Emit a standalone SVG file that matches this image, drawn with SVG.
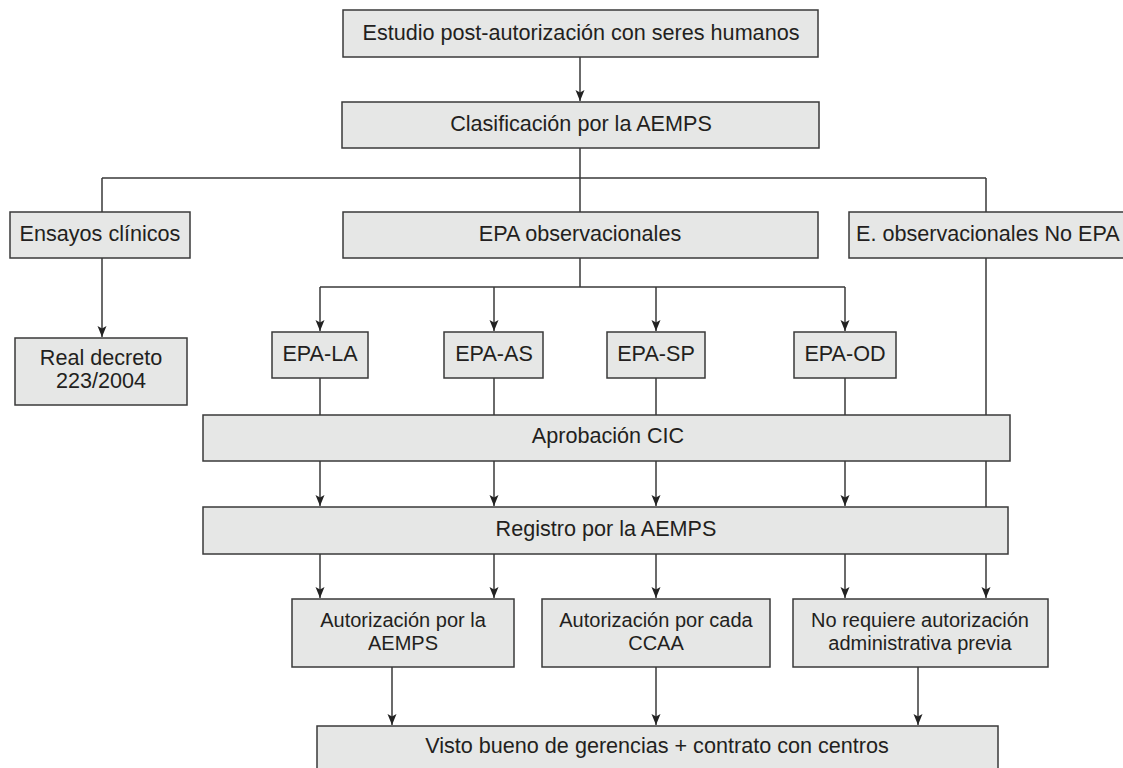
<svg xmlns="http://www.w3.org/2000/svg" width="1123" height="768" viewBox="0 0 1123 768">
<defs>
<style>
.box{fill:#e6e7e6;stroke:#3a3a3a;stroke-width:1.5}
.ln{fill:none;stroke:#3a3a3a;stroke-width:1.5}
.t{font-family:"Liberation Sans",Arial,Helvetica,sans-serif;font-size:21.6px;fill:#231f20;text-anchor:middle}
.t2{font-size:20px}
</style>
<marker id="ah" markerUnits="userSpaceOnUse" markerWidth="12" markerHeight="12" viewBox="0 0 12 10" refX="11" refY="5" orient="auto">
<path d="M0,0.5 L11,5 L0,9.5 L2.5,5 z" fill="#222"/>
</marker>
</defs>
<rect width="1123" height="768" fill="#ffffff"/>
<g id="connectors">
<path class="ln" d="M580,57 V101" marker-end="url(#ah)"/>
<path class="ln" d="M580,148 V178 M102,178 H986 M102,178 V212 M580,178 V212 M986,178 V212"/>
<path class="ln" d="M102,258 V337" marker-end="url(#ah)"/>
<path class="ln" d="M580,258 V287 M320,287 H845"/>
<path class="ln" d="M320,287 V331" marker-end="url(#ah)"/>
<path class="ln" d="M494,287 V331" marker-end="url(#ah)"/>
<path class="ln" d="M656,287 V331" marker-end="url(#ah)"/>
<path class="ln" d="M845,287 V331" marker-end="url(#ah)"/>
<path class="ln" d="M320,378 V415 M494,378 V415 M656,378 V415 M845,378 V415 M986,258 V507"/>
<path class="ln" d="M320,461 V506" marker-end="url(#ah)"/>
<path class="ln" d="M494,461 V506" marker-end="url(#ah)"/>
<path class="ln" d="M656,461 V506" marker-end="url(#ah)"/>
<path class="ln" d="M845,461 V506" marker-end="url(#ah)"/>
<path class="ln" d="M320,554 V598" marker-end="url(#ah)"/>
<path class="ln" d="M494,554 V598" marker-end="url(#ah)"/>
<path class="ln" d="M656,554 V598" marker-end="url(#ah)"/>
<path class="ln" d="M845,554 V598" marker-end="url(#ah)"/>
<path class="ln" d="M986,554 V598" marker-end="url(#ah)"/>
<path class="ln" d="M392,667 V725" marker-end="url(#ah)"/>
<path class="ln" d="M656,667 V725" marker-end="url(#ah)"/>
<path class="ln" d="M918,667 V725" marker-end="url(#ah)"/>
</g>
<g id="n-estudio"><rect class="box" x="343" y="10" width="475" height="47"/><text class="t" x="581" y="40">Estudio post-autorización con seres humanos</text></g>
<g id="n-clasificacion"><rect class="box" x="342" y="102" width="477" height="46"/><text class="t" x="581" y="131">Clasificación por la AEMPS</text></g>
<g id="n-ensayos"><rect class="box" x="10" y="212" width="180" height="46"/><text class="t" x="100" y="241">Ensayos clínicos</text></g>
<g id="n-epa-obs"><rect class="box" x="343" y="212" width="475" height="46"/><text class="t" x="580" y="241">EPA observacionales</text></g>
<g id="n-noepa"><rect class="box" x="849" y="212" width="290" height="46"/><text class="t" x="856" y="241" style="text-anchor:start">E. observacionales No EPA</text></g>
<g id="n-real"><rect class="box" x="15" y="338" width="172" height="67"/><text class="t" x="101" y="365">Real decreto</text><text class="t" x="101" y="388">223/2004</text></g>
<g id="n-epa-la"><rect class="box" x="272" y="332" width="96" height="46"/><text class="t" x="320" y="361">EPA-LA</text></g>
<g id="n-epa-as"><rect class="box" x="444" y="332" width="99" height="46"/><text class="t" x="494" y="361">EPA-AS</text></g>
<g id="n-epa-sp"><rect class="box" x="607" y="332" width="98" height="46"/><text class="t" x="656" y="361">EPA-SP</text></g>
<g id="n-epa-od"><rect class="box" x="794" y="332" width="102" height="46"/><text class="t" x="845" y="361">EPA-OD</text></g>
<g id="n-cic"><rect class="box" x="203" y="415" width="807" height="46"/><text class="t" x="608" y="443">Aprobación CIC</text></g>
<g id="n-registro"><rect class="box" x="203" y="507" width="805" height="47"/><text class="t" x="606" y="536">Registro por la AEMPS</text></g>
<g id="n-aut-aemps"><rect class="box" x="292" y="599" width="222" height="68"/><text class="t t2" x="403" y="627">Autorización por la</text><text class="t t2" x="403" y="650">AEMPS</text></g>
<g id="n-aut-ccaa"><rect class="box" x="542" y="599" width="228" height="68"/><text class="t t2" x="656" y="627">Autorización por cada</text><text class="t t2" x="656" y="650">CCAA</text></g>
<g id="n-no-req"><rect class="box" x="793" y="599" width="255" height="68"/><text class="t t2" x="920" y="627">No requiere autorización</text><text class="t t2" x="920" y="650">administrativa previa</text></g>
<g id="n-visto"><rect class="box" x="317" y="726" width="681" height="60"/><text class="t" x="657" y="753">Visto bueno de gerencias + contrato con centros</text></g>
</svg>
